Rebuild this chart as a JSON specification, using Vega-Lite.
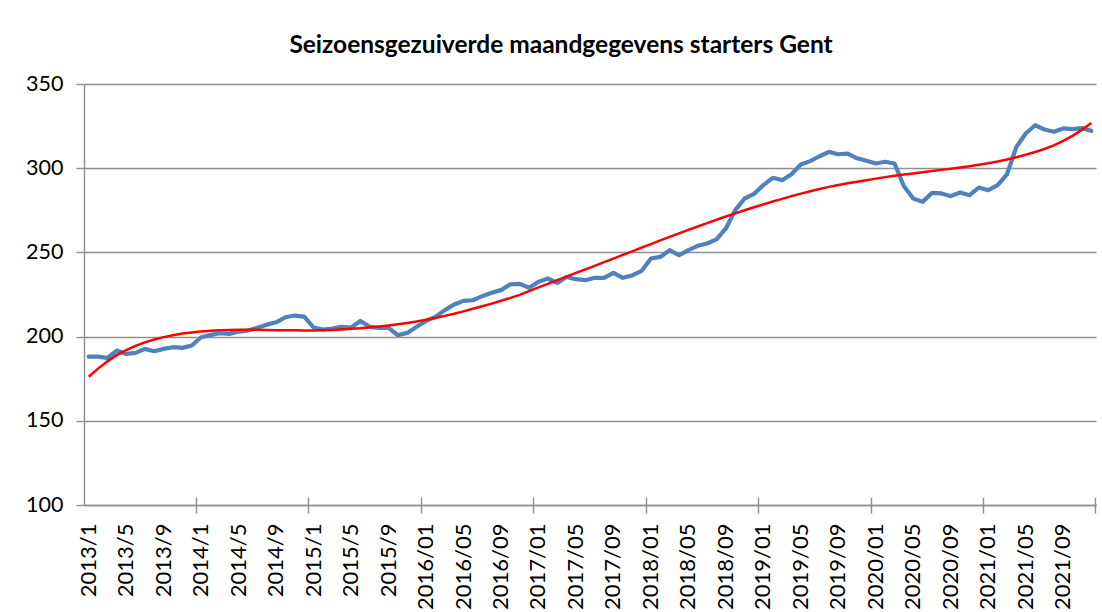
{
  "$schema": "https://vega.github.io/schema/vega-lite/v6.json",
  "width": 1012,
  "height": 421,
  "autosize": "none",
  "padding": {"left": 84, "top": 84, "right": 6, "bottom": 107},
  "background": "white",
  "title": {"text": "Seizoensgezuiverde maandgegevens starters Gent", "font": "Lato", "fontSize": 24.5, "fontWeight": "bold", "color": "black", "anchor": "middle", "dx": -29, "offset": 15},
  "config": {"view": {"stroke": null}},
  "data": {"values": [
    {"month": "2013/1", "starters": 188.1, "trend": 176.2},
    {"month": "2013/2", "starters": 188.1, "trend": 181.0},
    {"month": "2013/3", "starters": 187.3, "trend": 185.3},
    {"month": "2013/4", "starters": 191.7, "trend": 189.0},
    {"month": "2013/5", "starters": 189.7, "trend": 192.0},
    {"month": "2013/6", "starters": 190.3, "trend": 194.5},
    {"month": "2013/7", "starters": 192.7, "trend": 196.6},
    {"month": "2013/8", "starters": 191.3, "trend": 198.3},
    {"month": "2013/9", "starters": 192.7, "trend": 199.7},
    {"month": "2013/10", "starters": 193.7, "trend": 200.8},
    {"month": "2013/11", "starters": 193.3, "trend": 201.8},
    {"month": "2013/12", "starters": 194.7, "trend": 202.5},
    {"month": "2014/1", "starters": 199.6, "trend": 203.1},
    {"month": "2014/2", "starters": 201.0, "trend": 203.5},
    {"month": "2014/3", "starters": 202.0, "trend": 203.8},
    {"month": "2014/4", "starters": 201.6, "trend": 203.9},
    {"month": "2014/5", "starters": 203.0, "trend": 204.0},
    {"month": "2014/6", "starters": 203.6, "trend": 204.0},
    {"month": "2014/7", "starters": 205.2, "trend": 204.0},
    {"month": "2014/8", "starters": 207.1, "trend": 203.9},
    {"month": "2014/9", "starters": 208.5, "trend": 203.8},
    {"month": "2014/10", "starters": 211.5, "trend": 203.7},
    {"month": "2014/11", "starters": 212.5, "trend": 203.7},
    {"month": "2014/12", "starters": 211.9, "trend": 203.6},
    {"month": "2015/1", "starters": 205.4, "trend": 203.6},
    {"month": "2015/2", "starters": 204.2, "trend": 203.7},
    {"month": "2015/3", "starters": 204.8, "trend": 203.9},
    {"month": "2015/4", "starters": 205.8, "trend": 204.2},
    {"month": "2015/5", "starters": 205.4, "trend": 204.6},
    {"month": "2015/6", "starters": 209.3, "trend": 205.0},
    {"month": "2015/7", "starters": 205.8, "trend": 205.5},
    {"month": "2015/8", "starters": 205.2, "trend": 206.0},
    {"month": "2015/9", "starters": 205.2, "trend": 206.6},
    {"month": "2015/10", "starters": 200.8, "trend": 207.3},
    {"month": "2015/11", "starters": 202.2, "trend": 208.1},
    {"month": "2015/12", "starters": 205.8, "trend": 209.0},
    {"month": "2016/01", "starters": 209.3, "trend": 210.0},
    {"month": "2016/02", "starters": 211.7, "trend": 211.1},
    {"month": "2016/03", "starters": 215.7, "trend": 212.3},
    {"month": "2016/04", "starters": 219.1, "trend": 213.6},
    {"month": "2016/05", "starters": 221.2, "trend": 215.0},
    {"month": "2016/06", "starters": 221.6, "trend": 216.5},
    {"month": "2016/07", "starters": 224.0, "trend": 218.0},
    {"month": "2016/08", "starters": 226.0, "trend": 219.6},
    {"month": "2016/09", "starters": 227.6, "trend": 221.3},
    {"month": "2016/10", "starters": 231.0, "trend": 223.0},
    {"month": "2016/11", "starters": 231.3, "trend": 224.8},
    {"month": "2016/12", "starters": 229.0, "trend": 227.0},
    {"month": "2017/01", "starters": 232.5, "trend": 229.2},
    {"month": "2017/02", "starters": 234.5, "trend": 231.3},
    {"month": "2017/03", "starters": 231.9, "trend": 233.5},
    {"month": "2017/04", "starters": 235.4, "trend": 235.6},
    {"month": "2017/05", "starters": 234.1, "trend": 237.8},
    {"month": "2017/06", "starters": 233.5, "trend": 239.9},
    {"month": "2017/07", "starters": 234.9, "trend": 242.0},
    {"month": "2017/08", "starters": 234.9, "trend": 244.2},
    {"month": "2017/09", "starters": 237.8, "trend": 246.3},
    {"month": "2017/10", "starters": 234.9, "trend": 248.5},
    {"month": "2017/11", "starters": 236.3, "trend": 250.6},
    {"month": "2017/12", "starters": 239.0, "trend": 252.8},
    {"month": "2018/01", "starters": 246.4, "trend": 254.9},
    {"month": "2018/02", "starters": 247.3, "trend": 257.1},
    {"month": "2018/03", "starters": 251.3, "trend": 259.2},
    {"month": "2018/04", "starters": 248.3, "trend": 261.3},
    {"month": "2018/05", "starters": 251.3, "trend": 263.4},
    {"month": "2018/06", "starters": 253.9, "trend": 265.4},
    {"month": "2018/07", "starters": 255.3, "trend": 267.4},
    {"month": "2018/08", "starters": 257.7, "trend": 269.4},
    {"month": "2018/09", "starters": 264.2, "trend": 271.3},
    {"month": "2018/10", "starters": 275.1, "trend": 273.2},
    {"month": "2018/11", "starters": 282.0, "trend": 275.0},
    {"month": "2018/12", "starters": 284.7, "trend": 276.8},
    {"month": "2019/01", "starters": 290.0, "trend": 278.5},
    {"month": "2019/02", "starters": 294.3, "trend": 280.2},
    {"month": "2019/03", "starters": 292.9, "trend": 281.8},
    {"month": "2019/04", "starters": 296.4, "trend": 283.4},
    {"month": "2019/05", "starters": 302.2, "trend": 284.9},
    {"month": "2019/06", "starters": 304.2, "trend": 286.3},
    {"month": "2019/07", "starters": 307.1, "trend": 287.6},
    {"month": "2019/08", "starters": 309.7, "trend": 288.9},
    {"month": "2019/09", "starters": 308.3, "trend": 290.0},
    {"month": "2019/10", "starters": 308.7, "trend": 291.1},
    {"month": "2019/11", "starters": 305.9, "trend": 292.0},
    {"month": "2019/12", "starters": 304.4, "trend": 292.9},
    {"month": "2020/01", "starters": 302.8, "trend": 293.8},
    {"month": "2020/02", "starters": 303.8, "trend": 294.7},
    {"month": "2020/03", "starters": 302.8, "trend": 295.5},
    {"month": "2020/04", "starters": 289.3, "trend": 296.2},
    {"month": "2020/05", "starters": 282.0, "trend": 296.9},
    {"month": "2020/06", "starters": 280.0, "trend": 297.6},
    {"month": "2020/07", "starters": 285.4, "trend": 298.3},
    {"month": "2020/08", "starters": 285.0, "trend": 299.0},
    {"month": "2020/09", "starters": 283.4, "trend": 299.7},
    {"month": "2020/10", "starters": 285.6, "trend": 300.4},
    {"month": "2020/11", "starters": 284.0, "trend": 301.1},
    {"month": "2020/12", "starters": 288.5, "trend": 302.0},
    {"month": "2021/01", "starters": 286.9, "trend": 303.0},
    {"month": "2021/02", "starters": 289.9, "trend": 304.0},
    {"month": "2021/03", "starters": 296.4, "trend": 305.2},
    {"month": "2021/04", "starters": 312.6, "trend": 306.5},
    {"month": "2021/05", "starters": 320.6, "trend": 308.0},
    {"month": "2021/06", "starters": 325.5, "trend": 309.6},
    {"month": "2021/07", "starters": 323.0, "trend": 311.4},
    {"month": "2021/08", "starters": 321.6, "trend": 313.6},
    {"month": "2021/09", "starters": 323.6, "trend": 316.2},
    {"month": "2021/10", "starters": 323.2, "trend": 319.2},
    {"month": "2021/11", "starters": 323.8, "trend": 322.8},
    {"month": "2021/12", "starters": 322.2, "trend": 326.8}
  ]},
  "encoding": {
    "y": {
      "type": "quantitative",
      "scale": {"domain": [100, 350], "nice": false, "zero": false},
      "axis": {
        "title": null,
        "values": [100, 150, 200, 250, 300, 350],
        "grid": true, "gridColor": "#8f8f8f", "gridWidth": 1.4,
        "domain": true, "domainColor": "#8f8f8f", "domainWidth": 1.4,
        "ticks": true, "tickColor": "#8f8f8f", "tickWidth": 1.4, "tickSize": 8,
        "labelFont": "Lato", "labelFontSize": 21.5, "labelColor": "black", "labelPadding": 13
      }
    }
  },
  "layer": [
    {
      "mark": {"type": "line", "color": "#4f81bd", "strokeWidth": 4.2, "strokeJoin": "round", "strokeCap": "round"},
      "encoding": {
        "x": {
          "field": "month", "type": "ordinal", "sort": null, "bandPosition": 0.5,
          "scale": {"type": "band", "paddingInner": 0, "paddingOuter": 0},
          "axis": {
            "title": null, "orient": "bottom",
            "values": ["2013/1", "2013/5", "2013/9", "2014/1", "2014/5", "2014/9", "2015/1", "2015/5", "2015/9", "2016/01", "2016/05", "2016/09", "2017/01", "2017/05", "2017/09", "2018/01", "2018/05", "2018/09", "2019/01", "2019/05", "2019/09", "2020/01", "2020/05", "2020/09", "2021/01", "2021/05", "2021/09"],
            "ticks": false, "tickSize": 0, "grid": false,
            "domain": true, "domainColor": "#8f8f8f", "domainWidth": 1.4,
            "labelAngle": -90, "labelAlign": "right", "labelBaseline": "middle",
            "labelFont": "Lato", "labelFontSize": 22, "labelColor": "black", "labelPadding": 18,
            "labelOverlap": false
          }
        },
        "y": {"field": "starters"}
      }
    },
    {
      "mark": {"type": "line", "color": "#ff0000", "strokeWidth": 2.5},
      "encoding": {
        "x": {
          "field": "month", "type": "ordinal", "sort": null, "bandPosition": 0.5,
          "axis": {
            "title": null, "orient": "bottom", "offset": -8,
            "values": ["2013/12", "2014/12", "2015/12", "2016/12", "2017/12", "2018/12", "2019/12", "2020/12", "2021/12"],
            "bandPosition": 1,
            "ticks": true, "tickSize": 16, "tickColor": "#8f8f8f", "tickWidth": 1.4,
            "labels": false, "domain": false, "grid": false
          }
        },
        "y": {"field": "trend"}
      }
    }
  ],
  "resolve": {"axis": {"x": "independent"}}
}
